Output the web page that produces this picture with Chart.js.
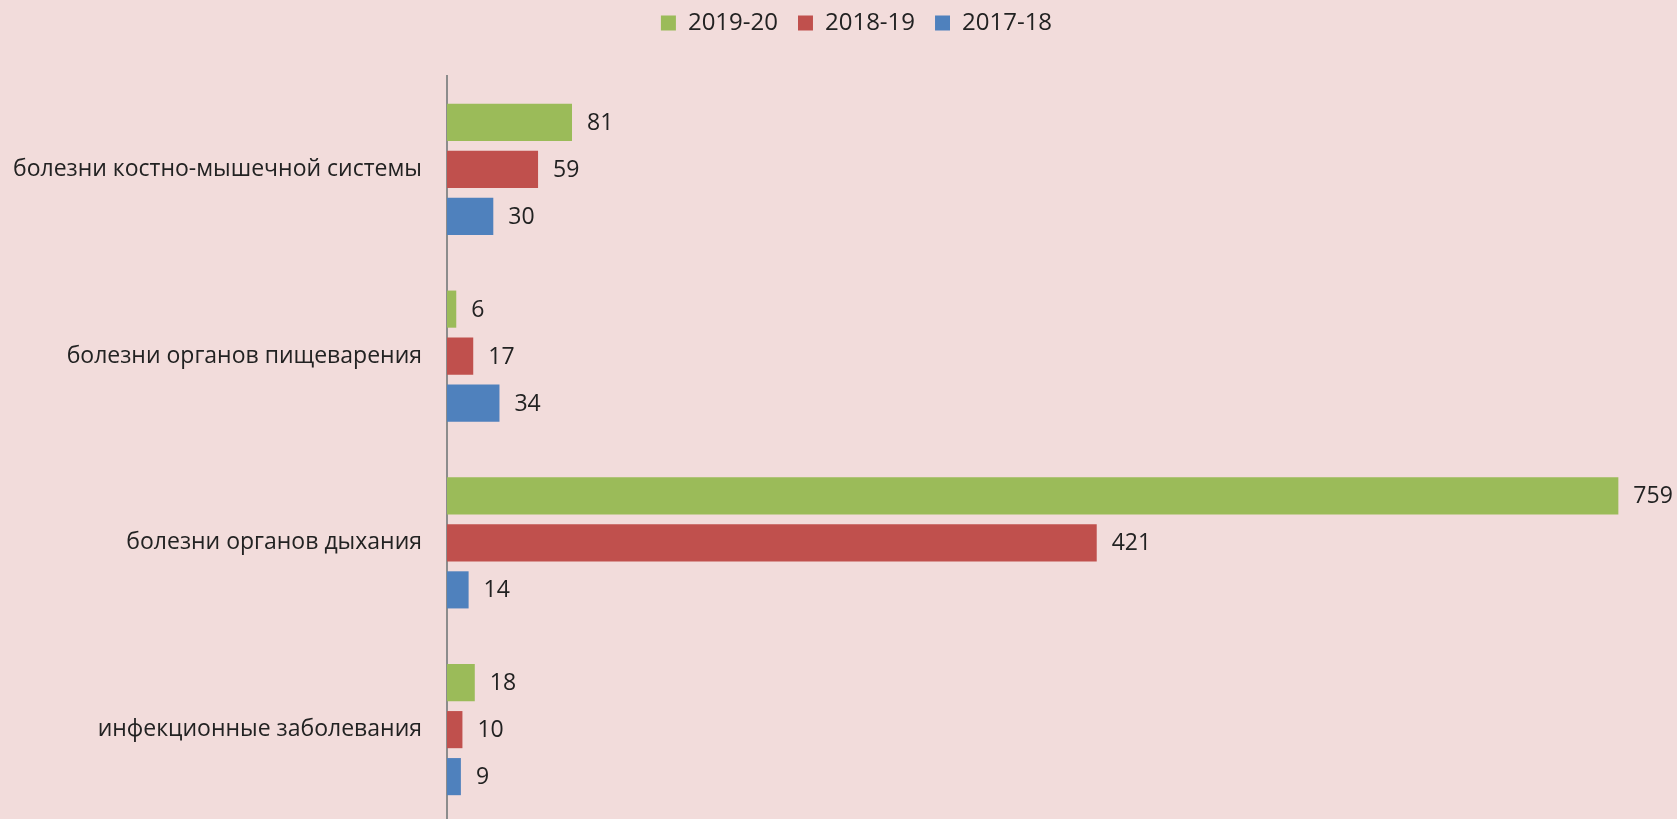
<!DOCTYPE html>
<html>
<head>
<meta charset="utf-8">
<script src="https://cdn.jsdelivr.net/npm/chart.js@4/dist/chart.umd.min.js"></script>
<style>
  html, body { margin: 0; padding: 0; overflow: hidden; background: #F2DCDB; }
  #wrap { width: 1677px; height: 823px; }
</style>
</head>
<body>
<div id="wrap"><canvas id="chart" width="1677" height="823"></canvas></div>
<script>
const categories = [
  'болезни костно-мышечной системы',
  'болезни органов пищеварения',
  'болезни органов дыхания',
  'инфекционные заболевания'
];
const values2019 = [81, 6, 759, 18];
const values2018 = [59, 17, 421, 10];
const values2017 = [30, 34, 14, 9];

const textColor = '#222222';

// value labels at the end of each bar
const barLabels = {
  id: 'barLabels',
  afterDatasetsDraw(chart) {
    const ctx = chart.ctx;
    ctx.save();
    ctx.font = '23px "Open Sans"';
    ctx.fillStyle = textColor;
    ctx.textAlign = 'left';
    ctx.textBaseline = 'middle';
    chart.data.datasets.forEach((ds, i) => {
      chart.getDatasetMeta(i).data.forEach((bar, j) => {
        ctx.fillText(ds.data[j], bar.x + 15, bar.y + 1);
      });
    });
    ctx.restore();
  }
};

// fixed legend band on top, items nudged so wider spacing doesn't push them down
const legendSpace = {
  id: 'legendSpace',
  beforeInit(chart) {
    const fit = chart.legend.fit;
    chart.legend.fit = function() {
      fit.bind(chart.legend)();
      this.height = 76;
    };
  },
  afterLayout(chart) {
    const lg = chart.legend;
    lg.top = -9;
    lg.left += 18;
    lg.right += 18;
  }
};

const ctx = document.getElementById('chart').getContext('2d');
const chart = new Chart(ctx, {
  type: 'bar',
  data: {
    labels: categories,
    datasets: [
      { label: '2019-20', data: values2019, backgroundColor: '#9BBB59' },
      { label: '2018-19', data: values2018, backgroundColor: '#C0504D' },
      { label: '2017-18', data: values2017, backgroundColor: '#4F81BD' }
    ]
  },
  options: {
    indexAxis: 'y',
    responsive: false,
    maintainAspectRatio: false,
    animation: false,
    categoryPercentage: 0.755,
    barPercentage: 0.79,
    layout: { padding: 0 },
    plugins: {
      legend: {
        position: 'top',
        labels: {
          color: textColor,
          font: { family: 'Open Sans', size: 24 },
          boxWidth: 15,
          boxHeight: 15,
          padding: 20
        }
      },
      tooltip: { enabled: false }
    },
    scales: {
      x: { display: false, min: 0, max: 797 },
      y: {
        afterFit(scale) {
          scale.width = 447;
          scale.paddingTop = 0;
          scale.paddingBottom = 0;
        },
        grid: { display: false, drawTicks: false },
        border: { display: true, color: '#8C8C8C', width: 2 },
        ticks: { color: textColor, font: { family: 'Open Sans', size: 23 }, padding: 25 }
      }
    }
  },
  plugins: [barLabels, legendSpace]
});
</script>
</body>
</html>
